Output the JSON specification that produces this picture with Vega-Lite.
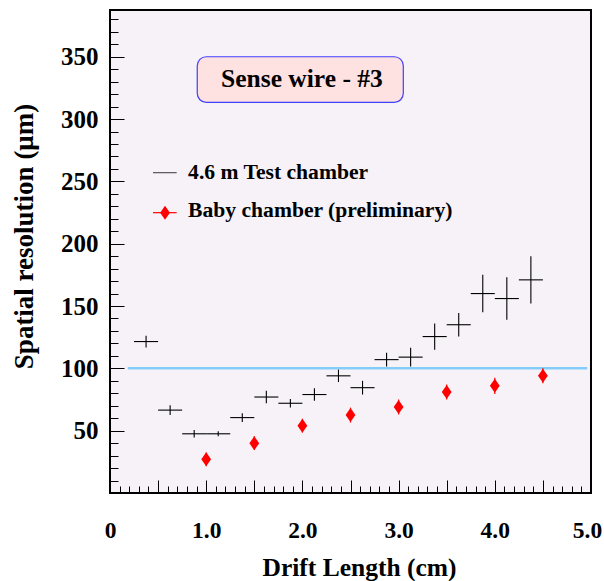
{
  "$schema": "https://vega.github.io/schema/vega-lite/v6.json",
  "width": 481,
  "height": 483,
  "autosize": {"type": "none"},
  "padding": {"left": 110, "top": 10, "right": 13, "bottom": 88},
  "background": "white",
  "view": {"fill": "#f6f2f8", "stroke": "black", "strokeWidth": 2},
  "config": {
    "font": "Liberation Serif",
    "axis": {"domain": false, "grid": false, "tickColor": "black", "tickWidth": 1, "labelColor": "black", "titleColor": "black", "labelFont": "Liberation Serif", "titleFont": "Liberation Serif", "labelFontWeight": "bold", "titleFontWeight": "bold", "labelOverlap": false}
  },
  "datasets": {
    "test": [
      {"x": 0.375, "y": 121.5, "ex": 0.125, "ey": 4.7},
      {"x": 0.625, "y": 66.5, "ex": 0.125, "ey": 4},
      {"x": 0.875, "y": 47.5, "ex": 0.125, "ey": 3},
      {"x": 1.125, "y": 47.5, "ex": 0.125, "ey": 2},
      {"x": 1.375, "y": 60.5, "ex": 0.125, "ey": 3.5},
      {"x": 1.625, "y": 77, "ex": 0.125, "ey": 5},
      {"x": 1.875, "y": 72, "ex": 0.125, "ey": 3.5},
      {"x": 2.125, "y": 79, "ex": 0.125, "ey": 5},
      {"x": 2.375, "y": 94, "ex": 0.125, "ey": 5},
      {"x": 2.625, "y": 84.5, "ex": 0.125, "ey": 5.5},
      {"x": 2.875, "y": 107, "ex": 0.125, "ey": 5.5},
      {"x": 3.125, "y": 109, "ex": 0.125, "ey": 7.5},
      {"x": 3.375, "y": 125.5, "ex": 0.125, "ey": 10.5},
      {"x": 3.625, "y": 135, "ex": 0.125, "ey": 9.5},
      {"x": 3.875, "y": 160, "ex": 0.125, "ey": 15},
      {"x": 4.125, "y": 156, "ex": 0.125, "ey": 17},
      {"x": 4.375, "y": 171, "ex": 0.125, "ey": 19}
    ],
    "baby": [
      {"x": 1.0, "y": 27, "ey": 5.5},
      {"x": 1.5, "y": 40, "ey": 5.5},
      {"x": 2.0, "y": 54, "ey": 5.5},
      {"x": 2.5, "y": 62.5, "ey": 6},
      {"x": 3.0, "y": 69, "ey": 6},
      {"x": 3.5, "y": 81, "ey": 6},
      {"x": 4.0, "y": 86, "ey": 6.5},
      {"x": 4.5, "y": 94, "ey": 6}
    ]
  },
  "layer": [
    {
      "data": {"values": [{}]},
      "mark": {"type": "rule", "color": "#85cdf9", "strokeWidth": 2.5},
      "encoding": {
        "x": {"datum": 0.185, "type": "quantitative", "scale": {"domain": [0, 5], "nice": false, "zero": false},
          "axis": {
            "title": "Drift Length (cm)",
            "titleFontSize": 25.5,
            "titleX": 249,
            "titleY": 82,
            "titleBaseline": "alphabetic",
            "tickCount": 500,
            "values": [0,0.1,0.2,0.3,0.4,0.5,0.6,0.7,0.8,0.9,1,1.1,1.2,1.3,1.4,1.5,1.6,1.7,1.8,1.9,2,2.1,2.2,2.3,2.4,2.5,2.6,2.7,2.8,2.9,3,3.1,3.2,3.3,3.4,3.5,3.6,3.7,3.8,3.9,4,4.1,4.2,4.3,4.4,4.5,4.6,4.7,4.8,4.9,5],
            "labelExpr": "abs(datum.value - round(datum.value)) < 0.001 ? (datum.value == 0 ? '0' : format(datum.value, '.1f')) : ''",
            "labelFontSize": 23.5,
            "labelFlush": false,
            "labelOverlap": false,
            "labelBaseline": "alphabetic",
            "labelPadding": 57,
            "labelOffset": {"condition": {"test": "datum.value > 4.95", "value": -4}, "value": 0},
            "tickSize": {"condition": {"test": "abs(datum.value*2 - round(datum.value*2)) < 0.001", "value": -13}, "value": -7}
          }
        },
        "x2": {"datum": 4.96},
        "y": {"datum": 100, "type": "quantitative", "scale": {"domain": [0, 387.5], "nice": false, "zero": false},
          "axis": {
            "title": "Spatial resolution (μm)",
            "titleFontSize": 27,
            "titleX": -78,
            "titleY": 226,
            "titleBaseline": "alphabetic",
            "tickCount": 500,
            "values": [10,20,30,40,50,60,70,80,90,100,110,120,130,140,150,160,170,180,190,200,210,220,230,240,250,260,270,280,290,300,310,320,330,340,350,360,370,380],
            "labelExpr": "datum.value % 50 == 0 ? format(datum.value, 'd') : ''",
            "labelFontSize": 25,
            "labelOverlap": false,
            "labelPadding": 26,
            "tickSize": {"condition": {"test": "datum.value % 50 == 0", "value": -14}, "value": -8}
          }
        }
      }
    },
    {
      "data": {"name": "test"},
      "mark": {"type": "errorbar", "color": "black", "thickness": 1.1},
      "encoding": {
        "x": {"field": "x", "type": "quantitative", "title": "Drift Length (cm)"},
        "xError": {"field": "ex"},
        "y": {"field": "y", "type": "quantitative", "title": "Spatial resolution (μm)"}
      }
    },
    {
      "data": {"name": "test"},
      "mark": {"type": "errorbar", "color": "black", "thickness": 1.1},
      "encoding": {
        "x": {"field": "x", "type": "quantitative", "title": "Drift Length (cm)"},
        "y": {"field": "y", "type": "quantitative", "title": "Spatial resolution (μm)"},
        "yError": {"field": "ey"}
      }
    },
    {
      "data": {"name": "baby"},
      "mark": {"type": "errorbar", "color": "red", "thickness": 1.2},
      "encoding": {
        "x": {"field": "x", "type": "quantitative", "title": "Drift Length (cm)"},
        "y": {"field": "y", "type": "quantitative", "title": "Spatial resolution (μm)"},
        "yError": {"field": "ey"}
      }
    },
    {
      "data": {"name": "baby"},
      "mark": {"type": "point", "shape": "M0,-1L0.7,0L0,1L-0.7,0Z", "filled": true, "color": "red", "opacity": 1, "size": 196},
      "encoding": {
        "x": {"field": "x", "type": "quantitative", "title": "Drift Length (cm)"},
        "y": {"field": "y", "type": "quantitative", "title": "Spatial resolution (μm)"}
      }
    },
    {
      "data": {"values": [{}]},
      "mark": {"type": "rect", "fill": "#fee1e1", "stroke": "#4040ff", "strokeWidth": 1.2, "cornerRadius": 9},
      "encoding": {
        "x": {"datum": 0.907}, "x2": {"datum": 3.049},
        "y": {"datum": 350}, "y2": {"datum": 313.4}
      }
    },
    {
      "data": {"values": [{"label": "Sense wire - #3"}]},
      "mark": {"type": "text", "font": "Liberation Serif", "fontWeight": "bold", "fontSize": 25.5, "align": "center", "baseline": "alphabetic", "color": "black"},
      "encoding": {
        "x": {"datum": 1.995}, "y": {"datum": 326},
        "text": {"field": "label"}
      }
    },
    {
      "data": {"values": [{}]},
      "mark": {"type": "rule", "color": "#555555", "strokeWidth": 1.2},
      "encoding": {"x": {"datum": 0.447}, "x2": {"datum": 0.693}, "y": {"datum": 257}}
    },
    {
      "data": {"values": [{}]},
      "mark": {"type": "rule", "color": "red", "strokeWidth": 1.2},
      "encoding": {"x": {"datum": 0.447}, "x2": {"datum": 0.693}, "y": {"datum": 224.9}}
    },
    {
      "data": {"values": [{}]},
      "mark": {"type": "point", "shape": "M0,-1L0.7,0L0,1L-0.7,0Z", "filled": true, "color": "red", "opacity": 1, "size": 196},
      "encoding": {"x": {"datum": 0.572}, "y": {"datum": 224.9}}
    },
    {
      "data": {"values": [{"label": "4.6 m Test chamber", "yv": 251.7}, {"label": "Baby chamber (preliminary)", "yv": 221.7}]},
      "mark": {"type": "text", "font": "Liberation Serif", "fontWeight": "bold", "fontSize": 21.6, "align": "left", "baseline": "alphabetic", "color": "black"},
      "encoding": {
        "x": {"datum": 0.812},
        "y": {"field": "yv", "type": "quantitative", "title": "Spatial resolution (μm)"},
        "text": {"field": "label"}
      }
    }
  ]
}
